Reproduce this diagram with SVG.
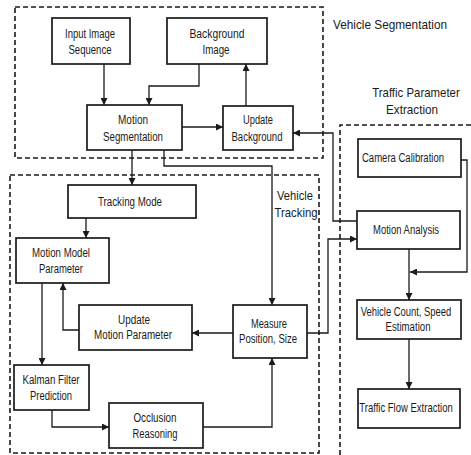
<svg xmlns="http://www.w3.org/2000/svg" width="471" height="455" viewBox="0 0 471 455">
<defs>
<style>
.box{fill:#fff;stroke:#1a1a1a;stroke-width:1.7}
.grp{fill:none;stroke:#1a1a1a;stroke-width:1.6;stroke-dasharray:5 3}
.ln{fill:none;stroke:#1a1a1a;stroke-width:1.3}
text{font-family:"Liberation Sans",Arial,sans-serif;font-size:12.5px;fill:#1a1a1a;text-anchor:middle}
.lbl{font-size:13.5px}
</style>
<marker id="ah" viewBox="0 0 10 10" refX="10" refY="5" markerWidth="7" markerHeight="7" orient="auto" markerUnits="userSpaceOnUse">
<path d="M0,0 L10,5 L0,10 z" fill="#1a1a1a"/>
</marker>
</defs>
<rect width="471" height="455" fill="#fff"/>
<g id="groups">
<rect class="grp" x="15" y="7" width="308" height="151"/>
<rect class="grp" x="10" y="175" width="309" height="278"/>
<path class="grp" d="M340,455 L340,125 L471,125"/>
<text class="lbl" x="390" y="29" textLength="114" lengthAdjust="spacingAndGlyphs">Vehicle Segmentation</text>
<text class="lbl" x="491.7" y="97" transform="scale(0.846,1)">Traffic Parameter</text>
<text class="lbl" x="412" y="114" textLength="52" lengthAdjust="spacingAndGlyphs">Extraction</text>
<text class="lbl" x="295" y="200" textLength="36" lengthAdjust="spacingAndGlyphs">Vehicle</text>
<text class="lbl" x="296" y="217" textLength="43" lengthAdjust="spacingAndGlyphs">Tracking</text>
</g>
<g id="connectors">
<path class="ln" d="M104,64 L104,105" marker-end="url(#ah)"/>
<path class="ln" d="M199,64 L199,86 L149,86 L149,105" marker-end="url(#ah)"/>
<path class="ln" d="M182,127 L223,127" marker-end="url(#ah)"/>
<path class="ln" d="M246,106 L246,64" marker-end="url(#ah)"/>
<path class="ln" d="M357,221 L333,221 L333,133 L293,133" marker-end="url(#ah)"/>
<path class="ln" d="M132,150 L132,185" marker-end="url(#ah)"/>
<path class="ln" d="M164,150 L164,166 L272,166 L272,305" marker-end="url(#ah)"/>
<path class="ln" d="M86,218 L86,238" marker-end="url(#ah)"/>
<path class="ln" d="M42,283 L42,365" marker-end="url(#ah)"/>
<path class="ln" d="M79,330 L63,330 L63,283" marker-end="url(#ah)"/>
<path class="ln" d="M233,333 L192,333" marker-end="url(#ah)"/>
<path class="ln" d="M52,410 L52,427 L109,427" marker-end="url(#ah)"/>
<path class="ln" d="M203,427 L272,427 L272,358" marker-end="url(#ah)"/>
<path class="ln" d="M307,333 L328,333 L328,239 L357,239" marker-end="url(#ah)"/>
<path class="ln" d="M461,160 L467,160 L467,272 L410,272" marker-end="url(#ah)"/>
<path class="ln" d="M409,249 L409,300" marker-end="url(#ah)"/>
<path class="ln" d="M409,339 L409,389" marker-end="url(#ah)"/>
</g>
<g id="input-image-sequence">
<rect class="box" x="52" y="18" width="78" height="46"/>
<text x="90" y="38" textLength="50" lengthAdjust="spacingAndGlyphs">Input Image</text>
<text x="90" y="54" textLength="43" lengthAdjust="spacingAndGlyphs">Sequence</text>
</g>
<g id="background-image">
<rect class="box" x="167" y="18" width="100" height="46"/>
<text x="217" y="38" textLength="55" lengthAdjust="spacingAndGlyphs">Background</text>
<text x="216" y="54" textLength="27" lengthAdjust="spacingAndGlyphs">Image</text>
</g>
<g id="motion-segmentation">
<rect class="box" x="87" y="105" width="95" height="45"/>
<text x="133" y="124" textLength="30" lengthAdjust="spacingAndGlyphs">Motion</text>
<text x="133" y="141" textLength="60" lengthAdjust="spacingAndGlyphs">Segmentation</text>
</g>
<g id="update-background">
<rect class="box" x="223" y="106" width="70" height="44"/>
<text x="258" y="124" textLength="30" lengthAdjust="spacingAndGlyphs">Update</text>
<text x="257" y="141" textLength="51" lengthAdjust="spacingAndGlyphs">Background</text>
</g>
<g id="tracking-mode">
<rect class="box" x="68" y="185" width="128" height="33"/>
<text x="130" y="206" textLength="64" lengthAdjust="spacingAndGlyphs">Tracking Mode</text>
</g>
<g id="motion-model-parameter">
<rect class="box" x="16" y="238" width="93" height="45"/>
<text x="61" y="257" textLength="58" lengthAdjust="spacingAndGlyphs">Motion Model</text>
<text x="61" y="273" textLength="44" lengthAdjust="spacingAndGlyphs">Parameter</text>
</g>
<g id="update-motion-parameter">
<rect class="box" x="79" y="305" width="113" height="45"/>
<text x="134" y="324" textLength="32" lengthAdjust="spacingAndGlyphs">Update</text>
<text x="133" y="339" textLength="78" lengthAdjust="spacingAndGlyphs">Motion Parameter</text>
</g>
<g id="measure-position-size">
<rect class="box" x="233" y="305" width="74" height="53"/>
<text x="269" y="328" textLength="36" lengthAdjust="spacingAndGlyphs">Measure</text>
<text x="268" y="343" textLength="58" lengthAdjust="spacingAndGlyphs">Position, Size</text>
</g>
<g id="kalman-filter-prediction">
<rect class="box" x="14" y="365" width="75" height="45"/>
<text x="51" y="384" textLength="57" lengthAdjust="spacingAndGlyphs">Kalman  Filter</text>
<text x="51" y="400" textLength="42" lengthAdjust="spacingAndGlyphs">Prediction</text>
</g>
<g id="occlusion-reasoning">
<rect class="box" x="109" y="403" width="94" height="45"/>
<text x="155" y="422" textLength="43" lengthAdjust="spacingAndGlyphs">Occlusion</text>
<text x="155" y="438" textLength="45" lengthAdjust="spacingAndGlyphs">Reasoning</text>
</g>
<g id="camera-calibration">
<rect class="box" x="358" y="139" width="103" height="38"/>
<text x="403" y="162" textLength="82" lengthAdjust="spacingAndGlyphs">Camera Calibration</text>
</g>
<g id="motion-analysis">
<rect class="box" x="357" y="211" width="103" height="38"/>
<text x="406" y="234" textLength="66" lengthAdjust="spacingAndGlyphs">Motion Analysis</text>
</g>
<g id="vehicle-count">
<rect class="box" x="357" y="300" width="104" height="39"/>
<text x="539.2" y="316" transform="scale(0.753,1)">Vehicle Count, Speed</text>
<text x="408" y="331" textLength="45" lengthAdjust="spacingAndGlyphs">Estimation</text>
</g>
<g id="traffic-flow-extraction">
<rect class="box" x="358" y="389" width="102" height="39"/>
<text x="533.9" y="412" transform="scale(0.7605,1)">Traffic Flow Extraction</text>
</g>
</svg>
